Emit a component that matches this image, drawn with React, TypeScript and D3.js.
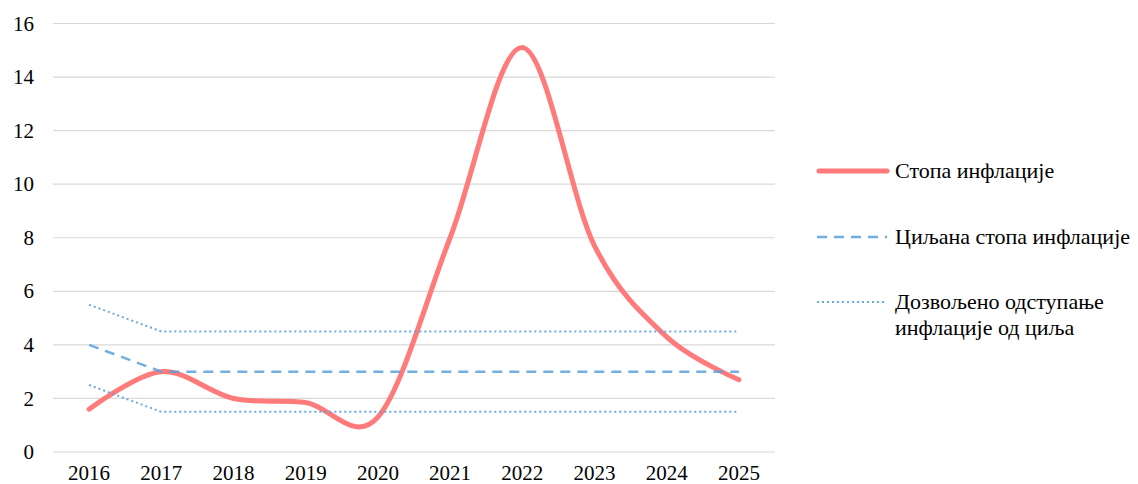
import React from "react";
import * as d3 from "d3";

const years = ["2016", "2017", "2018", "2019", "2020", "2021", "2022", "2023", "2024", "2025"];
const inflation = [1.6, 3.0, 2.0, 1.85, 1.3, 8.0, 15.1, 7.7, 4.3, 2.7];
const target = [4, 3, 3, 3, 3, 3, 3, 3, 3, 3];
const upperBand = [5.5, 4.5, 4.5, 4.5, 4.5, 4.5, 4.5, 4.5, 4.5, 4.5];
const lowerBand = [2.5, 1.5, 1.5, 1.5, 1.5, 1.5, 1.5, 1.5, 1.5, 1.5];
const yTicks = [0, 2, 4, 6, 8, 10, 12, 14, 16];
const legendLabels = [
  ["Стопа инфлације"],
  ["Циљана стопа инфлације"],
  ["Дозвољено одступање", "инфлације од циља"],
];

const W = 1138;
const H = 484;
const left = 53;
const right = 775;
const top = 23.5;
const bottom = 452;
const FONT = "'Liberation Serif', serif";

export default function App() {
  const x = d3.scaleBand<string>().domain(years).range([left, right]);
  const y = d3.scaleLinear().domain([0, 16]).range([bottom, top]);
  const cx = (i: number) => (x(years[i]) as number) + x.bandwidth() / 2;

  const smooth = d3
    .line<number>()
    .x((_, i) => cx(i))
    .y((d) => y(d))
    .curve(d3.curveCardinal.tension(0));
  const straight = d3
    .line<number>()
    .x((_, i) => cx(i))
    .y((d) => y(d));

  const red = "rgb(255,122,122)";
  const blue = "rgba(91,160,218,0.85)";
  const blueDot = "rgba(91,160,218,0.9)";

  return (
    <svg
      width={W}
      height={H}
      style={{ position: "absolute", left: 0, top: 0, background: "#fff" }}
    >
      {yTicks.map((t) => (
        <g key={t}>
          <line x1={left} x2={right} y1={y(t)} y2={y(t)} stroke="#d9d9d9" strokeWidth={1.2} />
          <text
            x={34}
            y={y(t)}
            dy="0.34em"
            textAnchor="end"
            fontFamily={FONT}
            fontSize={21}
            fill="#000"
          >
            {t}
          </text>
        </g>
      ))}
      {years.map((yr, i) => (
        <text
          key={yr}
          x={cx(i)}
          y={480}
          textAnchor="middle"
          fontFamily={FONT}
          fontSize={21}
          fill="#000"
        >
          {yr}
        </text>
      ))}
      <path d={smooth(inflation) || ""} fill="none" stroke={red} strokeWidth={5} strokeLinecap="round" />
      <path d={straight(upperBand) || ""} fill="none" stroke={blueDot} strokeWidth={2} strokeDasharray="2,3" />
      <path d={straight(lowerBand) || ""} fill="none" stroke={blueDot} strokeWidth={2} strokeDasharray="2,3" />
      <path d={straight(target) || ""} fill="none" stroke={blue} strokeWidth={2.5} strokeDasharray="10,7" />

      {/* Legend */}
      <line x1={819} x2={887} y1={171} y2={171} stroke={red} strokeWidth={5} strokeLinecap="round" />
      <text x={895} y={171} dy="0.34em" fontFamily={FONT} fontSize={22} fill="#000">
        {legendLabels[0][0]}
      </text>
      <line x1={817} x2={887} y1={237} y2={237} stroke={blue} strokeWidth={2.5} strokeDasharray="10,7" />
      <text x={895} y={237} dy="0.34em" fontFamily={FONT} fontSize={22} fill="#000">
        {legendLabels[1][0]}
      </text>
      <line x1={817} x2={887} y1={302} y2={302} stroke={blueDot} strokeWidth={2} strokeDasharray="2,3" />
      {legendLabels[2].map((l, i) => (
        <text key={i} x={895} y={302 + i * 26} dy="0.34em" fontFamily={FONT} fontSize={22} fill="#000">
          {l}
        </text>
      ))}
    </svg>
  );
}
